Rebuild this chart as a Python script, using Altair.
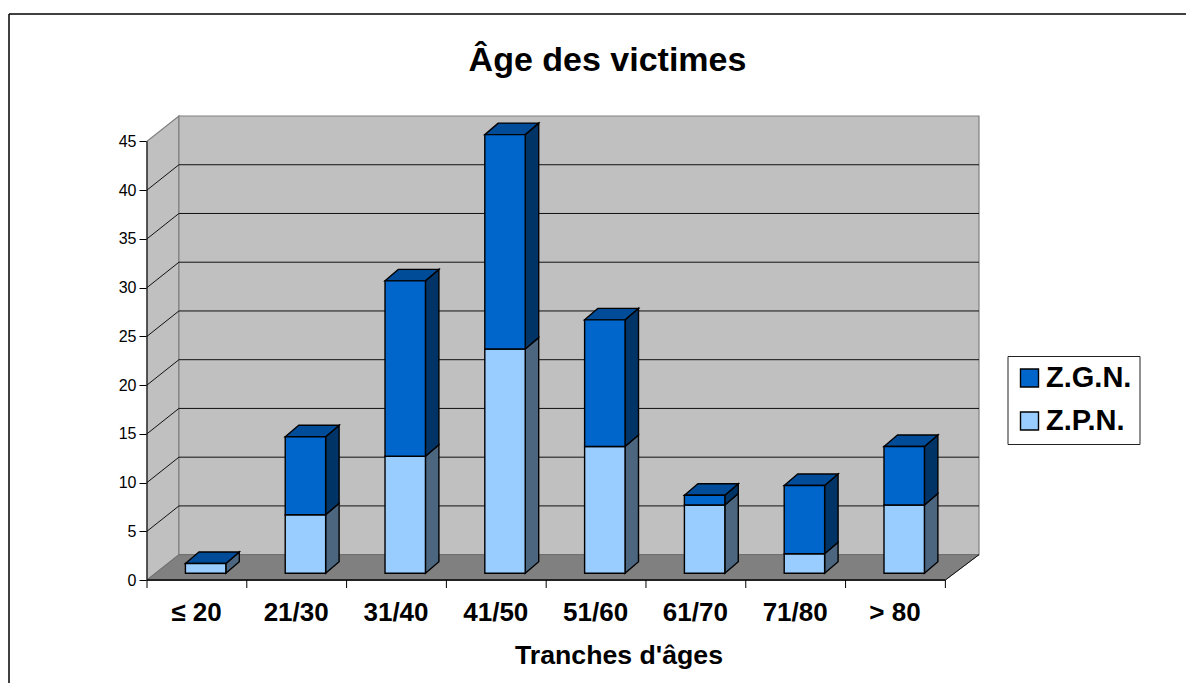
import altair as alt
import pandas as pd

categories = ["≤ 20", "21/30", "31/40", "41/50", "51/60", "61/70", "71/80", "> 80"]
zpn = [1, 6, 12, 23, 13, 7, 2, 7]
zgn = [0, 8, 18, 22, 13, 1, 7, 6]
series_names = ["Z.G.N.", "Z.P.N."]
y_ticks = [0, 5, 10, 15, 20, 25, 30, 35, 40, 45]
chart_title = ["Âge des victimes"]

FONT = "Liberation Sans"
# 3D projection, in data units
WALL_DX, WALL_DY = 0.32, 2.6
BAR_OFF, BAR_W, BAR_BASE = 0.385, 0.405, 0.69
BAR_DX, BAR_DY = 0.135, 1.18
N = len(categories)
YMAX = max(y_ticks) + WALL_DY
XMAX = 8.337

xs = alt.Scale(domain=[0, XMAX], nice=False, zero=False)
ys = alt.Scale(domain=[0, YMAX], nice=False, zero=False)
W, H = 832, 464

label_expr = "[" + ",".join("'%s'" % c for c in categories) + "][floor(datum.value)]"
x_axis = alt.Axis(
    values=[i + 0.5 for i in range(N)], labelExpr=label_expr, ticks=False, domain=False, grid=False,
    labelFont=FONT, labelFontSize=26, labelFontWeight="bold", labelColor="black", labelPadding=19,
    labelOffset=-1, labelFlush=False, labelOverlap=False,
    title="Tranches d'âges", titleFont=FONT, titleFontSize=26.7, titleFontWeight="bold", titleColor="black",
    titleX=471.5, titleY=75, titleBaseline="middle", titleAlign="center")
y_axis = alt.Axis(
    values=y_ticks, domain=False, grid=False, tickSize=8, tickColor="black", tickWidth=1,
    labelFont=FONT, labelFontSize=16, labelColor="black", labelPadding=3, title=None)


def X(f):
    return alt.X(f, type="quantitative", scale=xs, axis=x_axis)


def Y(f):
    return alt.Y(f, type="quantitative", scale=ys, axis=y_axis)


# ---- tables -----------------------------------------------------------
front, side, top = [], [], []
for i, (p, g) in enumerate(zip(zpn, zgn)):
    x0 = i + BAR_OFF
    x1 = x0 + BAR_W
    segs = [("Z.P.N.", 0, p, "#4C6680"), ("Z.G.N.", p, p + g, "#003366")]
    for name, lo, hi, side_col in segs:
        if hi == lo:
            continue
        front.append(dict(s=name, x=x0, x2=x1, y=BAR_BASE + lo, y2=BAR_BASE + hi))
        gid = f"{i}-{name}"
        side.append(dict(g=gid, c=side_col, x=x1, y=BAR_BASE + lo, y2=BAR_BASE + hi))
        side.append(dict(g=gid, c=side_col, x=x1 + BAR_DX, y=BAR_BASE + lo + BAR_DY, y2=BAR_BASE + hi + BAR_DY))
    t = BAR_BASE + p + g
    top.append(dict(g=i, x=x0, x2=x1, y=t))
    top.append(dict(g=i, x=x0 + BAR_DX, x2=x1 + BAR_DX, y=t + BAR_DY))

front = pd.DataFrame(front)
side = pd.DataFrame(side)
top = pd.DataFrame(top)

grid = []
for v in y_ticks[1:-1]:
    grid += [dict(g=v, o=0, x=0, y=v), dict(g=v, o=1, x=WALL_DX, y=v + WALL_DY), dict(g=v, o=2, x=XMAX, y=v + WALL_DY)]
grid = pd.DataFrame(grid)

lw = pd.DataFrame([dict(x=0, y=0, y2=y_ticks[-1]), dict(x=WALL_DX, y=WALL_DY, y2=y_ticks[-1] + WALL_DY)])
bw = pd.DataFrame([dict(x=WALL_DX, x2=XMAX, y=WALL_DY, y2=YMAX)])
fl = pd.DataFrame([dict(y=0, x=0, x2=N), dict(y=WALL_DY, x=WALL_DX, x2=XMAX)])
diag = pd.DataFrame([dict(x=N, y=0), dict(x=XMAX, y=WALL_DY)])
base_line = pd.DataFrame([dict(x=0, x2=N, y=0)])
y_line = pd.DataFrame([dict(x=0, y=0, y2=y_ticks[-1])])
x_ticks = pd.DataFrame(dict(x=list(range(N + 1))))

left_wall = alt.Chart(lw).mark_area(fill="#C0C0C0", stroke="#808080", strokeWidth=1.2).encode(
    x=X("x"), y=Y("y"), y2="y2")
back_wall = alt.Chart(bw).mark_rect(fill="#C0C0C0", stroke="#808080", strokeWidth=1.2).encode(
    x=X("x"), x2="x2", y=Y("y"), y2="y2")
grid_l = alt.Chart(grid).mark_line(color="#111111", strokeWidth=1).encode(
    x=X("x"), y=Y("y"), detail="g:N", order="o:O")
floor = alt.Chart(fl).mark_area(orient="horizontal", fill="#808080", stroke="#6E6E6E", strokeWidth=1).encode(
    y=Y("y"), x=X("x"), x2="x2")
diag_l = alt.Chart(diag).mark_line(color="#111111", strokeWidth=1).encode(x=X("x"), y=Y("y"))
base_r = alt.Chart(base_line).mark_rule(color="#222222", strokeWidth=2).encode(x=X("x"), x2="x2", y=Y("y"))
y_r = alt.Chart(y_line).mark_rule(color="black", strokeWidth=1).encode(x=X("x"), y=Y("y"), y2="y2")
tick_r = alt.Chart(x_ticks).mark_rule(color="black", strokeWidth=1).encode(
    x=X("x"), y=alt.value(H), y2=alt.value(H + 8))

sides = alt.Chart(side).mark_area(stroke="black", strokeWidth=1.4).encode(
    x=X("x"), y=Y("y"), y2="y2", detail="g:N", fill=alt.Fill("c:N", scale=None))
tops = alt.Chart(top).mark_area(orient="horizontal", fill="#004C99", stroke="black", strokeWidth=1.4).encode(
    y=Y("y"), x=X("x"), x2="x2", detail="g:N")
fronts = alt.Chart(front).mark_rect(stroke="black", strokeWidth=1.4).encode(
    x=X("x"), x2="x2", y=Y("y"), y2="y2",
    fill=alt.Fill("s:N", scale=alt.Scale(domain=series_names, range=["#0066CC", "#99CCFF"]),
                  legend=alt.Legend(
                      title=None, orient="none", legendX=860.5, legendY=240,
                      fillColor="white", strokeColor="#222222", padding=7.5,
                      symbolType="square", symbolSize=324, symbolStrokeColor="black", symbolStrokeWidth=1.4,
                      labelFont=FONT, labelFontSize=29, labelFontWeight="bold", labelColor="black",
                      labelOffset=2, rowPadding=13, labelLimit=200)))

title_t = alt.Chart(pd.DataFrame(dict(t=chart_title))).mark_text(
    font=FONT, fontSize=34, fontWeight="bold", color="black", align="center", baseline="alphabetic"
).encode(text="t:N", x=alt.value(460.5), y=alt.value(-45))

frame_top = alt.Chart(pd.DataFrame(dict(a=[0]))).mark_rule(color="black", strokeWidth=1.5).encode(
    x=alt.value(-138), x2=alt.value(1060), y=alt.value(-102))
frame_left = alt.Chart(pd.DataFrame(dict(a=[0]))).mark_rule(color="black", strokeWidth=1.5).encode(
    x=alt.value(-138), y=alt.value(-102), y2=alt.value(600))

chart = alt.layer(
    left_wall, back_wall, grid_l, floor, diag_l, base_r, y_r, tick_r, sides, tops, fronts, title_t, frame_top, frame_left
).properties(
    width=W, height=H,
    padding={"left": 139, "top": 108, "right": 207, "bottom": 103},
    autosize=alt.AutoSizeParams(type="none"),
    background="white",
).configure_view(stroke=None)

chart.save("out.html", embed_options={"renderer": "svg", "actions": False})
